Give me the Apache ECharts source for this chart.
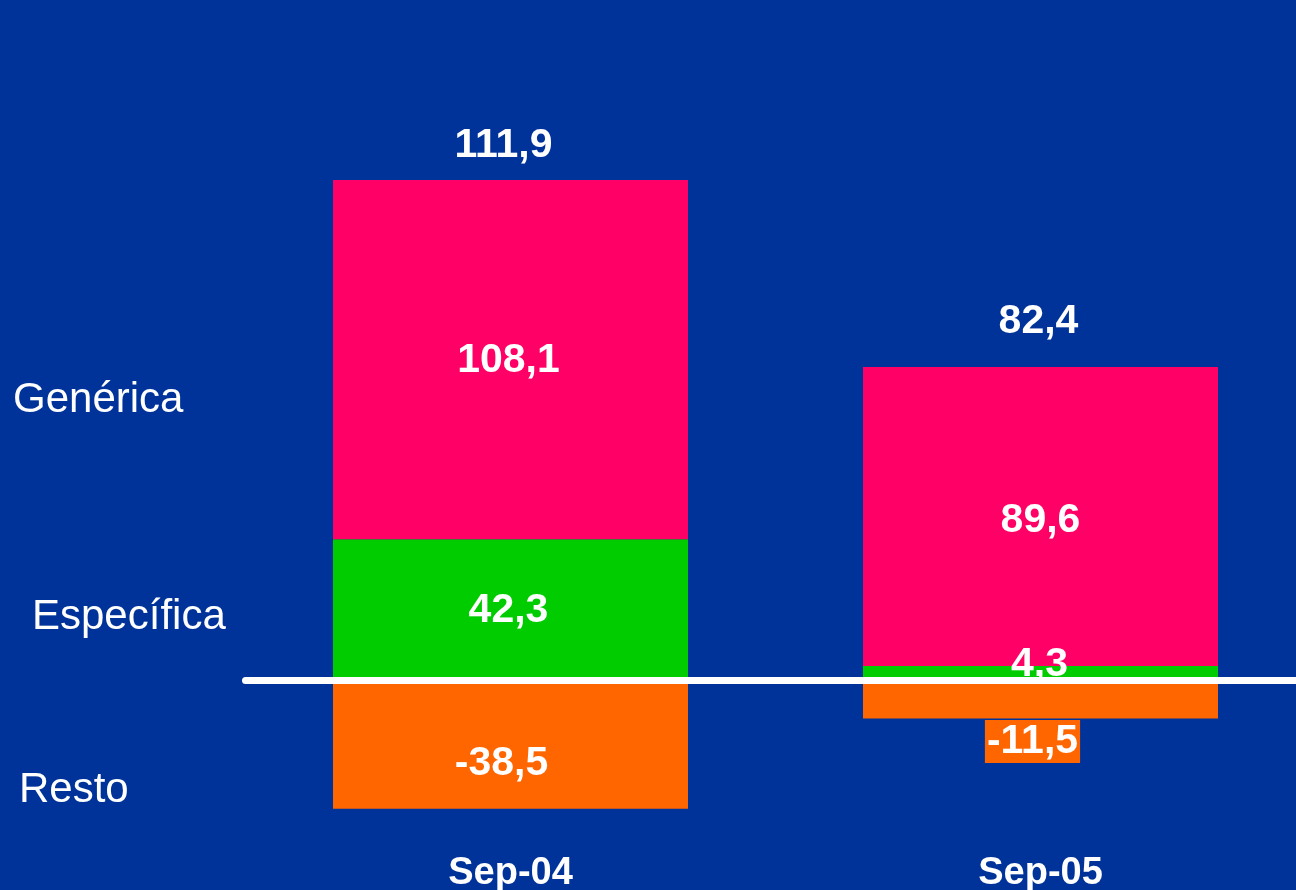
<!DOCTYPE html>
<html>
<head>
<meta charset="utf-8">
<script src="https://cdn.jsdelivr.net/npm/echarts@6/dist/echarts.min.js"></script>
<style>
html, body { margin: 0; padding: 0; background: #003399; }
#chart { width: 1296px; height: 890px; }
</style>
</head>
<body>
<div id="chart"></div>
<script>
// datos
const categorias = ['Sep-04', 'Sep-05'];
const generica = [108.1, 89.6];
const especifica = [42.3, 4.3];
const resto = [-38.5, -11.5];
const totales = [111.9, 82.4];
const etiquetasSerie = ['Genérica', 'Específica', 'Resto'];

const FONT = '"Liberation Sans", Arial, sans-serif';

function fmt(v) {
    return v.toFixed(1).replace('.', ',');
}

let chart = echarts.init(document.getElementById('chart'));

// etiquetas de los valores, con pequeños desplazamientos como en el original
let labelBase = {
    show: true,
    position: 'inside',
    color: '#fff',
    fontFamily: FONT,
    fontWeight: 'bold',
    fontSize: 41,
    lineHeight: 41,
    formatter: p => fmt(p.value)
};

let option = {
    backgroundColor: '#003399',
    animation: false,
    grid: { left: 245.5, top: 180, width: 1060, height: 667, outerBoundsMode: 'none', containLabel: false },
    xAxis: [
        {
            type: 'category',
            data: categorias,
            position: 'bottom',
            axisLine: { show: false, onZero: false },
            axisTick: { show: false },
            axisLabel: {
                color: '#fff',
                fontFamily: FONT,
                fontWeight: 'bold',
                fontSize: 38,
                margin: 8
            }
        },
        {
            // linea del cero
            type: 'category',
            data: categorias,
            position: 'top',
            z: 10,
            axisLine: {
                show: true,
                onZero: true,
                lineStyle: { color: '#fff', width: 7, cap: 'round' }
            },
            axisTick: { show: false },
            axisLabel: { show: false }
        }
    ],
    yAxis: {
        type: 'value',
        min: -50,
        max: 150,
        show: false,
        splitLine: { show: false }
    },
    graphic: [
        { type: 'text', left: 13, top: 379, style: { text: etiquetasSerie[0], fill: '#fff', font: '42px ' + FONT } },
        { type: 'text', left: 32, top: 596, style: { text: etiquetasSerie[1], fill: '#fff', font: '42px ' + FONT } },
        { type: 'text', left: 19, top: 769, style: { text: etiquetasSerie[2], fill: '#fff', font: '42px ' + FONT } }
    ],
    series: [
        {
            name: 'Resto',
            type: 'bar',
            stack: 'a',
            barWidth: 355,
            itemStyle: { color: '#FF6600' },
            label: labelBase,
            data: [
                { value: resto[0], label: { offset: [-9, 19] } },
                { value: resto[1], label: { offset: [-8, 42], backgroundColor: '#FF6600', padding: [1, 2] } }
            ]
        },
        {
            name: 'Específica',
            type: 'bar',
            stack: 'a',
            barWidth: 355,
            itemStyle: { color: '#00CC00' },
            label: labelBase,
            data: [
                { value: especifica[0], label: { offset: [-2, 1] } },
                { value: especifica[1], label: { offset: [-1, -8] } }
            ]
        },
        {
            name: 'Genérica',
            type: 'bar',
            stack: 'a',
            barWidth: 355,
            itemStyle: { color: '#FF0066' },
            label: labelBase,
            data: [
                { value: generica[0], label: { offset: [-2, 1] } },
                { value: generica[1], label: { offset: [0, 4] } }
            ]
        },
        {
            // totales encima de cada columna
            name: 'Total',
            type: 'scatter',
            clip: false,
            symbolSize: 1,
            itemStyle: { color: 'rgba(0,0,0,0)', opacity: 1 },
            label: Object.assign({}, labelBase, {
                formatter: p => fmt(totales[p.dataIndex])
            }),
            data: [
                { value: generica[0] + especifica[0], label: { offset: [-7, -33] } },
                { value: generica[1] + especifica[1], label: { offset: [-2, -45] } }
            ]
        }
    ]
};

chart.setOption(option);
</script>
</body>
</html>
